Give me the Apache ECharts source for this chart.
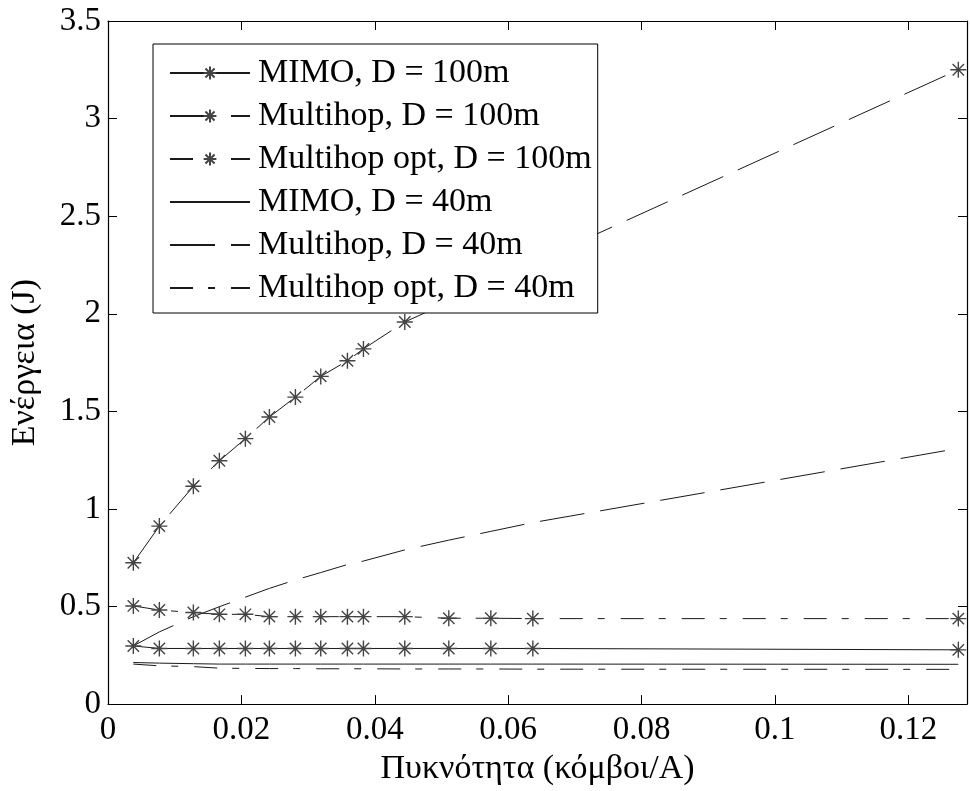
<!DOCTYPE html>
<html>
<head>
<meta charset="utf-8">
<script src="https://cdn.jsdelivr.net/npm/echarts@6/dist/echarts.min.js"></script>
<style>
html,body{margin:0;padding:0;background:#fff;}
#chart{width:970px;height:791px;}
</style>
</head>
<body>
<div id="chart"></div>
<script>
// ---- data ----
const xVals = [0.0038, 0.0077, 0.0128, 0.0167, 0.0206, 0.0242, 0.0281, 0.0319, 0.0359, 0.0383, 0.0445, 0.0511, 0.0574, 0.0637, 0.1275];
const mimo100 = [0.298, 0.285, 0.285, 0.285, 0.285, 0.285, 0.285, 0.285, 0.285, 0.285, 0.285, 0.285, 0.285, 0.285, 0.278];
const multihop100 = [0.724, 0.912, 1.116, 1.247, 1.36, 1.471, 1.573, 1.679, 1.759, 1.82, 1.958, 2.06, 2.16, 2.26, 3.25];
const multihopOpt100 = [0.503, 0.482, 0.469, 0.46, 0.46, 0.448, 0.448, 0.448, 0.448, 0.448, 0.448, 0.44, 0.44, 0.438, 0.438];
const mimo40 = [0.213, 0.210, 0.207, 0.205, 0.205, 0.205, 0.205, 0.205, 0.205, 0.205, 0.205, 0.205, 0.205, 0.205, 0.204];
const multihop40 = [0.298, 0.37, 0.448, 0.499, 0.548, 0.593, 0.636, 0.674, 0.715, 0.733, 0.79, 0.84, 0.885, 0.93, 1.31];
const multihopOpt40 = [0.205, 0.196, 0.192, 0.184, 0.183, 0.182, 0.182, 0.181, 0.181, 0.181, 0.18, 0.18, 0.18, 0.179, 0.178];
const seriesNames = ['MIMO, D = 100m', 'Multihop, D = 100m', 'Multihop opt, D = 100m', 'MIMO, D = 40m', 'Multihop, D = 40m', 'Multihop opt, D = 40m'];
const xAxisTitle = 'Πυκνότητα (κόμβοι/A)';
const yAxisTitle = 'Ενέργεια (J)';

// ---- styles ----
const FONT = 'Liberation Serif';
const INK = '#000';
const STAR = 'path://M8,0L8,16M0,8L16,8M2.3,2.3L13.7,13.7M2.3,13.7L13.7,2.3';
const DASH = [45, 16];
const DASHDOT = [23, 15, 7, 16];
const withStar = [true, true, true, false, false, false];

function pairs(ys){ return xVals.map((x,i)=>[x, ys[i]]); }

function mk(name, ys, type, star){
  return {
    name: name,
    type: 'line',
    data: pairs(ys),
    symbol: STAR,
    symbolSize: 16,
    showSymbol: !!star,
    animation: false,
    lineStyle: {color: '#1a1a1a', width: 1, type: type},
    itemStyle: {color: '#444', borderColor: '#444', borderWidth: 1.4},
    emphasis: {disabled: true}
  };
}

const chart = echarts.init(document.getElementById('chart'), null, {renderer: 'canvas'});

const axisCommonX = {
  type: 'value', min: 0, max: 0.1288, interval: 0.02,
  axisLine: {show: true, onZero: false, lineStyle: {color: INK, width: 1.2}},
  axisTick: {show: true, inside: true, length: 9, lineStyle: {color: INK}},
  splitLine: {show: false}
};
const axisCommonY = {
  type: 'value', min: 0, max: 3.5, interval: 0.5,
  axisLine: {show: true, onZero: false, lineStyle: {color: INK, width: 1.2}},
  axisTick: {show: true, inside: true, length: 9, lineStyle: {color: INK}},
  splitLine: {show: false}
};

const legendData = seriesNames.map((n, i) => withStar[i] ? {name: n} :
  {name: n, itemStyle: {color: 'rgba(0,0,0,0)', borderColor: 'rgba(0,0,0,0)', borderWidth: 0}});

chart.setOption({
  backgroundColor: '#fff',
  animation: false,
  grid: {left: 106, right: 3, top: 21, bottom: 86},
  legend: {
    orient: 'vertical',
    left: 153, top: 44,
    itemWidth: 80, itemHeight: 16, itemGap: 9,
    padding: [12, 6, 8, 16],
    borderColor: INK, borderWidth: 1, backgroundColor: '#fff',
    selectedMode: false,
    textStyle: {fontFamily: FONT, fontSize: 34, color: INK, lineHeight: 34, padding: [0,0,0,3]},
    data: legendData
  },
  xAxis: [
    Object.assign({}, axisCommonX, {
      position: 'bottom',
      axisLabel: {show: true, fontFamily: FONT, fontSize: 33, color: INK, margin: 10, showMaxLabel: false},
      name: xAxisTitle, nameLocation: 'middle', nameGap: 47,
      nameTextStyle: {fontFamily: FONT, fontSize: 34, color: INK}
    }),
    Object.assign({}, axisCommonX, {position: 'top', axisLabel: {show: false}})
  ],
  yAxis: [
    Object.assign({}, axisCommonY, {
      position: 'left',
      axisLabel: {show: true, fontFamily: FONT, fontSize: 33, color: INK, margin: 7},
      name: yAxisTitle, nameLocation: 'middle', nameGap: 66,
      nameTextStyle: {fontFamily: FONT, fontSize: 34, color: INK}
    }),
    Object.assign({}, axisCommonY, {position: 'right', axisLabel: {show: false}})
  ],
  series: [
    mk(seriesNames[0], mimo100, 'solid', withStar[0]),
    mk(seriesNames[1], multihop100, DASH, withStar[1]),
    mk(seriesNames[2], multihopOpt100, DASHDOT, withStar[2]),
    mk(seriesNames[3], mimo40, 'solid', withStar[3]),
    mk(seriesNames[4], multihop40, DASH, withStar[4]),
    mk(seriesNames[5], multihopOpt40, DASHDOT, withStar[5])
  ]
});
</script>
</body>
</html>
